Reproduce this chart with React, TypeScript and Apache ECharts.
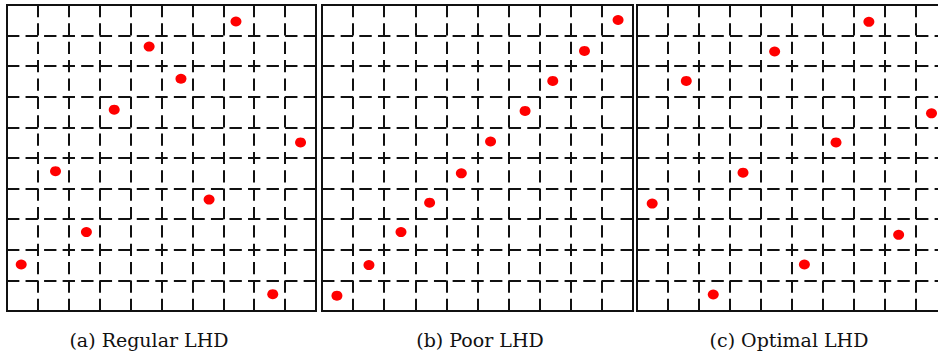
import React, { useEffect, useRef } from "react";
import * as echarts from "echarts";

// Panel titles
const panelTitles = ["(a) Regular LHD", "(b) Poor LHD", "(c) Optimal LHD"];

// Sample points (x = column position, y = row position, in cell units 0..10)
const regularX = [7.41, 4.6, 5.63, 3.47, 9.5, 1.57, 6.54, 2.57, 0.46, 8.6];
const regularY = [9.46, 8.64, 7.59, 6.58, 5.51, 4.57, 3.64, 2.58, 1.52, 0.55];

const poorX = [9.52, 8.44, 7.42, 6.53, 5.42, 4.48, 3.46, 2.54, 1.51, 0.48];
const poorY = [9.51, 8.5, 7.52, 6.54, 5.54, 4.5, 3.54, 2.58, 1.5, 0.5];

const optimalX = [7.48, 4.44, 1.59, 9.5, 6.42, 3.42, 0.49, 8.44, 5.4, 2.46];
const optimalY = [9.45, 8.48, 7.52, 6.46, 5.51, 4.52, 3.51, 2.49, 1.52, 0.54];

const allX = [regularX, poorX, optimalX];
const allY = [regularY, poorY, optimalY];

const gridBoxes = [
  { left: 7, top: 5, width: 309, height: 306 },
  { left: 322, top: 5, width: 311, height: 306 },
  { left: 637, top: 5, width: 310, height: 306 },
];
const titleCenters = [149, 480, 789];

export default function App() {
  const ref = useRef<HTMLDivElement>(null);
  useEffect(() => {
    document.body.style.margin = "0";
    if (!ref.current) return;
    const chart = echarts.init(ref.current, undefined, { renderer: "svg" });

    const grids = gridBoxes.map((g) => ({
      ...g,
      show: true,
      borderColor: "#111",
      borderWidth: 2,
      backgroundColor: "#fff",
      containLabel: false,
    }));

    const xAxes = gridBoxes.map((g, i) => {
      const cy = g.height / 10;
      return {
        type: "value",
        gridIndex: i,
        min: 0,
        max: 10,
        interval: 1,
        axisLine: { show: false },
        axisTick: { show: false },
        axisLabel: { show: false },
        splitLine: {
          show: true,
          lineStyle: { color: "#111", width: 2, type: [cy * 0.4, cy * 0.2] },
        },
      };
    });
    const yAxes = gridBoxes.map((g, i) => {
      const cx = g.width / 10;
      return {
        type: "value",
        gridIndex: i,
        min: 0,
        max: 10,
        interval: 1,
        axisLine: { show: false },
        axisTick: { show: false },
        axisLabel: { show: false },
        splitLine: {
          show: true,
          lineStyle: { color: "#111", width: 2, type: [cx * 0.4, cx * 0.2] },
        },
      };
    });

    const series = allX.map((xs, i) => ({
      type: "scatter",
      xAxisIndex: i,
      yAxisIndex: i,
      symbol: "circle",
      symbolSize: [11, 10],
      itemStyle: { color: "#ff0000", opacity: 1 },
      data: xs.map((x, k) => [x, allY[i][k]]),
      z: 5,
    }));

    chart.setOption({
      animation: false,
      backgroundColor: "#fff",
      grid: grids,
      xAxis: xAxes,
      yAxis: yAxes,
      series,
      title: panelTitles.map((t, i) => ({
        text: t,
        left: titleCenters[i],
        top: 340,
        textAlign: "center",
        textVerticalAlign: "middle",
        padding: 0,
        textStyle: {
          color: "#111",
          fontSize: 19,
          fontWeight: "normal",
          fontFamily: "DejaVu Serif",
        },
      })),
    });
    return () => chart.dispose();
  }, []);
  return (
    <div style={{ width: 938, height: 356, overflow: "hidden", position: "relative" }}>
      <div ref={ref} style={{ width: 960, height: 356 }} />
    </div>
  );
}
